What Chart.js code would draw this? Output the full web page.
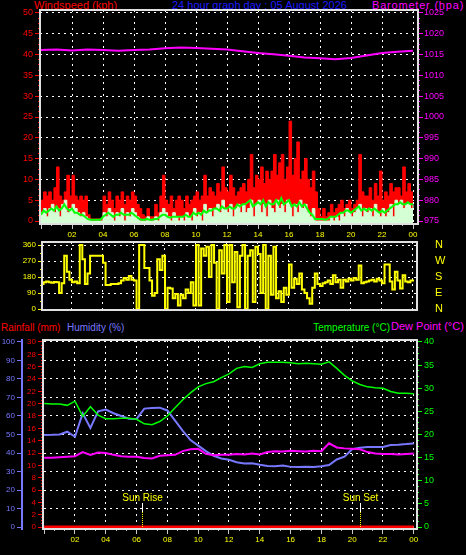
<!DOCTYPE html>
<html lang="en">
<head>
<meta charset="UTF-8">
<title>24 hour graph day</title>
<script src="https://cdn.jsdelivr.net/npm/chart.js"></script>
<style>
  html, body { margin: 0; padding: 0; background: #000; }
  body { width: 466px; height: 555px; position: relative; overflow: hidden;
         font-family: "Liberation Sans", Arial, sans-serif; }
  canvas { position: absolute; left: 0; }
  .t { position: absolute; font-size: 11px; line-height: 11px; white-space: nowrap; }
</style>
</head>
<body>
<div class="t" style="left:34px;top:0;color:#ff0000">Windspeed (kph)</div>
<div class="t" style="left:172px;top:0;color:#1c1cff">24 hour graph day : 05 August 2026</div>
<div class="t" style="left:372px;top:0;color:#ff00ff;letter-spacing:0.8px">Barometer (hpa)</div>
<div class="t" style="left:1px;top:322px;color:#ff0000;font-size:10px">Rainfall (mm)</div>
<div class="t" style="left:67px;top:322px;color:#7878ff;font-size:10px">Humidity (%)</div>
<div class="t" style="right:76px;top:322px;color:#00ff00;font-size:10px">Temperature (°C)</div>
<div class="t" style="left:391px;top:321px;color:#ff00ff">Dew Point (°C)</div>

<canvas id="top" width="466" height="240" style="top:0"></canvas>
<canvas id="dir" width="466" height="92" style="top:228px"></canvas>
<canvas id="bottom" width="466" height="237" style="top:318px"></canvas>

<script>
// wind, 10 minute samples from 00:00 to 24:00
const windStep = 1 / 6;
const windGust = [
  5, 7, 6, 7, 5, 8,   13, 6, 5, 7, 11, 6,   11, 6, 5, 6, 5, 6,   1.5, 0.5, 0.5, 0.5, 0.5, 0.5,
  6, 4, 7, 5, 3, 6,   5, 7, 4, 6, 5, 7,   6, 4, 3, 1.5, 1, 3,   1, 1, 4, 2, 6, 11,
  5, 4, 6, 3, 5, 6,   5, 3, 6, 4, 5, 6,   7, 5, 6, 11, 6, 8,   7, 6, 9, 7, 13, 8,
  7, 11, 8, 6, 7, 8,   9, 7, 10, 16, 8, 11,   10, 13, 9, 12, 10, 12,   16, 11, 14, 16, 10, 13,
  24, 11, 15, 19, 10, 12,   15, 10, 8, 12, 7, 3,   1, 3, 1, 2, 4, 2,   3, 4, 5, 3, 4, 5,
  3, 4, 5, 16, 7, 6,   6, 8, 5, 9, 6, 12,   5, 7, 6, 9, 7, 8,   8, 6, 13, 7, 9, 7,
  7
];
const windSpeed = [
  2, 3, 1, 3, 4, 2,   3, 1, 4, 5, 2, 3,   4, 3, 2, 1, 2, 1,   0.5, 0, 0, 0, 0, 0,
  2, 1, 3, 2, 0, 2,   1, 3, 0, 2, 1, 3,   2, 1, 0, 0, 0, 1,   0, 0, 1, 0, 2, 3,
  2, 1, 0, 2, 1, 0,   1, 0, 2, 1, 0, 3,   1, 2, 0, 4, 2, 3,   1, 3, 4, 2, 5, 3,
  2, 4, 1, 3, 4, 2,   4, 2, 3, 5, 1, 4,   5, 2, 4, 1, 5, 3,   2, 5, 3, 4, 2, 5,
  4, 1, 4, 2, 5, 3,   4, 2, 1, 3, 0, 0,   0, 0, 0, 0, 1, 0,   1, 0, 2, 1, 3, 2,
  1, 2, 3, 4, 1, 3,   2, 3, 1, 4, 2, 1,   3, 1, 2, 4, 1, 5,   4, 5, 3, 4, 4, 3,
  4
];
const windAvg = [
  1.5, 2.5, 2, 2.5, 3, 2.5,   3.5, 2.5, 3, 4, 3, 2.5,   3, 2, 2, 1.5, 1.5, 1,   0.5, 0.3, 0.3, 0.3, 0.3, 0.3,
  1, 1.5, 2, 1.5, 1, 1.5,   1.5, 2, 1.5, 1.5, 1.5, 2,   1.5, 1, 0.5, 0.3, 0.3, 0.5,   0.3, 0.3, 0.5, 0.5, 1, 1.5,
  1.5, 1, 0.8, 1, 1, 1,   1, 1, 1.5, 1, 1, 2,   1.5, 2, 1.5, 2.5, 2, 2.5,   2.5, 3, 3, 2.5, 3.5, 3,
  3, 3.5, 3, 3, 4, 3.5,   4, 4, 4.5, 5, 3.5, 4,   4.5, 4, 5, 3.5, 4.5, 4,   4, 5, 4, 5.5, 4, 4.5,
  5, 3.5, 4, 3.5, 4.5, 3.5,   4, 3, 2, 1.5, 0.5, 0.5,   0.5, 0.5, 0.3, 0.5, 1, 1,   1, 1.5, 2, 2, 2.5, 2.5,
  2, 2.5, 3, 3.5, 2.5, 3,   2.5, 3, 2.5, 3, 2.5, 2,   2.5, 2, 2.5, 3, 3.5, 4,   4, 4.5, 4, 4, 4.5, 4,
  4
];
const windDir = [
  140, 150, 155, 150, 148, 152,   150, 90, 145, 300, 210, 165,   150, 155, 145, 360, 280, 140,   200, 300, 300, 300, 300, 300,
  260, 135, 135, 140, 140, 140,   145, 160, 175, 165, 185, 165,   160, 0, 360, 360, 230, 230,   160, 75, 90, 280, 220, 300,
  0, 120, 115, 60, 85, 20,   80, 60, 110, 90, 150, 20,   360, 20, 340, 300, 350, 180,   360, 260, 0, 330, 200, 360,
  40, 360, 150, 320, 10, 300,   360, 0, 300, 330, 40, 350,   310, 90, 360, 0, 300, 80,   350, 60, 100, 40, 120, 80,
  250, 120, 170, 140, 200, 110,   90, 60, 30, 120, 200, 140,   130, 145, 150, 160, 140, 190,   150, 165, 120, 165, 155, 170,
  160, 175, 165, 245, 145, 150,   155, 160, 165, 155, 170, 160,   145, 250, 250, 155, 110, 210,   160, 115, 190, 155, 150, 160,
  155
];
// barometer, hourly
const baroStep = 1;
const barometer = [
  1016.1, 1016.2, 1016.0, 1016.2, 1016.1, 1015.9, 1016.1, 1016.2, 1016.5, 1016.7, 1016.6, 1016.4, 1016.2,
  1015.8, 1015.4, 1015.1, 1014.7, 1014.3, 1014.1, 1013.9, 1014.2, 1014.8, 1015.4, 1015.7, 1015.9
];
// temperature / humidity / dew point, half-hourly
const dayStep = 0.5;
const temperature = [
  26.7, 26.6, 26.6, 26.3, 27.2, 23.9, 26.0, 24.2, 23.4, 23.4, 23.5, 23.5,
  23.3, 22.3, 22.1, 22.8, 24.0, 25.8, 27.5, 29.0, 30.3, 31.0, 31.4, 32.3,
  33.1, 34.3, 34.7, 34.5, 35.3, 35.6, 35.6, 35.6, 35.5, 35.3, 35.4, 35.3,
  35.2, 35.7, 34.3, 32.8, 31.6, 30.8, 30.3, 30.1, 30.0, 29.3, 28.9, 28.9,
  28.8
];
const humidity = [
  49.7, 49.8, 50.0, 51.5, 48.8, 61.5, 53.5, 62.5, 63.5, 61.5, 60.0, 58.5,
  58.4, 64.0, 64.3, 64.5, 63.0, 57.5, 52.0, 47.0, 44.0, 41.0, 38.5, 37.0,
  36.3, 35.0, 34.3, 34.5, 33.6, 33.0, 32.8, 33.2, 32.5, 32.4, 32.6, 32.4,
  32.8, 33.5, 36.5, 38.0, 42.0, 42.8, 43.2, 43.2, 43.3, 44.3, 44.5, 44.8,
  45.2
];
const dewPoint = [
  15.0, 15.0, 15.1, 15.2, 15.3, 16.2, 15.6, 16.1, 16.0, 15.6, 15.3, 15.2,
  15.2, 14.9, 14.8, 15.4, 15.5, 15.6, 16.4, 16.8, 16.9, 15.8, 15.5, 15.6,
  15.6, 15.8, 15.7, 15.9, 15.7, 16.2, 16.4, 16.3, 16.5, 16.4, 16.3, 16.5,
  16.4, 18.1, 17.2, 17.0, 16.9, 16.8, 16.2, 15.9, 15.8, 15.8, 15.7, 15.8,
  15.9
];
// rainfall, hourly
const rainStep = 1;
const rainfall = [0, 0, 0, 0, 0, 0, 0, 0, 0, 0, 0, 0, 0, 0, 0, 0, 0, 0, 0, 0, 0, 0, 0, 0, 0];

const hourLabels = ['02', '04', '06', '08', '10', '12', '14', '16', '18', '20', '22', '00'];
const compassLabels = ['N', 'E', 'S', 'W', 'N'];
const sunLabels = ['Sun Rise', 'Sun Set'];
const sunTimes = [6.37, 20.5];

Chart.defaults.font.family = '"Liberation Sans", Arial, sans-serif';

function pts(values, step) {
  return values.map((v, i) => ({ x: i * step, y: v }));
}
function steps(a, b, s) {
  const out = [];
  for (let i = 0; a + i * s <= b + 1e-9; i++) out.push(+(a + i * s).toFixed(4));
  return out;
}
function fixed(list) {
  return s => { s.ticks = list.map(v => ({ value: v })); };
}
const hourTicks = steps(0, 24, 2 / 3);
const CLEAR = 'rgba(0,0,0,0)';

function hourAxis(min, max, height, showTicks) {
  return {
    type: 'linear', min, max,
    afterBuildTicks: fixed(hourTicks),
    afterFit: s => { s.height = height; },
    ticks: {
      display: showTicks, autoSkip: false, maxRotation: 0, color: '#ffff00',
      font: { size: 8 }, padding: 1,
      callback: (v, i) => (i % 3 === 0 && i > 0) ? hourLabels[i / 3 - 1] : ''
    },
    grid: {
      color: c => (c.index % 3 === 0 && c.index > 0) ? '#ffffff' : CLEAR,
      drawTicks: showTicks, tickLength: 5, tickColor: '#c8c8c8',
      tickBorderDash: c => c.index % 3 === 0 ? [] : [2, 50]
    },
    border: { display: false, dash: [2, 4] }
  };
}

function valueAxis(o) {
  const isMajor = v => Math.abs(v / o.major - Math.round(v / o.major)) < 1e-6;
  const minorDash = o.position === 'left' ? [0, o.tick - 2, 2, 50] : [2, 50];
  return {
    type: 'linear', position: o.position, weight: o.weight || 0,
    min: o.min, max: o.max,
    afterBuildTicks: fixed(o.ticks),
    afterFit: s => { s.width = o.width; },
    ticks: {
      autoSkip: false, color: o.color, font: { size: o.size || 9 }, padding: o.pad,
      callback: v => isMajor(v) ? (o.labels ? o.labels(v) : v) : ''
    },
    grid: {
      drawOnChartArea: !!o.gridLines,
      color: c => (c.tick && isMajor(c.tick.value)) ? '#ffffff' : CLEAR,
      drawTicks: true, tickLength: o.tick,
      tickColor: o.hideTicks ? CLEAR : o.color,
      tickBorderDash: c => (c.tick && isMajor(c.tick.value)) ? [] : minorDash
    },
    border: { display: !!o.border, color: o.color, width: 2, dash: [2, 4] }
  };
}

const frame = {
  id: 'frame',
  afterDraw(chart) {
    const { ctx, chartArea: a } = chart;
    ctx.save();
    ctx.strokeStyle = '#e0e0e0';
    ctx.lineWidth = 2;
    ctx.strokeRect(a.left, a.top, a.width, a.height);
    ctx.restore();
  }
};

const sunMarks = {
  id: 'sunMarks',
  afterDatasetsDraw(chart) {
    const { ctx, chartArea: a, scales: { x } } = chart;
    ctx.save();
    ctx.font = '10px "Liberation Sans", Arial, sans-serif';
    ctx.textAlign = 'center';
    ctx.fillStyle = '#ffff00';
    sunTimes.forEach((t, i) => {
      const px = Math.round(x.getPixelForValue(t)) + 0.5;
      ctx.fillText(sunLabels[i], px, a.bottom - 28);
      ctx.strokeStyle = '#ffffff';
      ctx.lineWidth = 1;
      ctx.setLineDash([]);
      ctx.beginPath(); ctx.moveTo(px, a.bottom - 26); ctx.lineTo(px, a.bottom - 17); ctx.stroke();
      ctx.strokeStyle = '#ffff00';
      ctx.setLineDash([1, 1]);
      ctx.beginPath(); ctx.moveTo(px, a.bottom - 17); ctx.lineTo(px, a.bottom - 2); ctx.stroke();
    });
    ctx.restore();
  }
};

const common = {
  responsive: false, animation: false, events: [],
  plugins: { legend: { display: false }, tooltip: { enabled: false } },
  elements: { point: { radius: 0 }, line: { tension: 0 } }
};

// windspeed + barometer
new Chart(document.getElementById('top'), {
  type: 'line',
  data: {
    datasets: [
      { label: 'Barometer', data: pts(barometer, baroStep), yAxisID: 'baro',
        borderColor: '#ff00ff', borderWidth: 2 },
      { label: 'Average', data: pts(windAvg, windStep), yAxisID: 'wind',
        borderColor: '#00ff00', borderWidth: 2 },
      { label: 'Speed', data: pts(windSpeed, windStep), yAxisID: 'wind', stepped: true,
        borderColor: '#d4ffd4', backgroundColor: '#d4ffd4', borderWidth: 1, fill: 'start' },
      { label: 'Gust', data: pts(windGust, windStep), yAxisID: 'wind', stepped: true,
        borderColor: '#ff0000', backgroundColor: '#ff0000', borderWidth: 1, fill: 'start' }
    ]
  },
  options: {
    ...common,
    layout: { padding: { top: 10, left: 0, right: 0, bottom: 0 } },
    scales: {
      x: hourAxis(-0.065, 24.32, 16, true),
      wind: valueAxis({ position: 'left', min: -0.72, max: 50.72, ticks: steps(0, 50, 1.25), major: 5,
        color: '#ff0000', width: 40, size: 9, tick: 5, pad: 2, gridLines: true }),
      baro: valueAxis({ position: 'right', min: 974.28, max: 1025.72, ticks: steps(975, 1025, 1.25), major: 5,
        color: '#ff00ff', width: 48, size: 9, tick: 5, pad: 1 })
    }
  },
  plugins: [frame]
});

// wind direction
new Chart(document.getElementById('dir'), {
  type: 'line',
  data: {
    datasets: [
      { label: 'Direction', data: pts(windDir, windStep), yAxisID: 'deg', stepped: true,
        borderColor: '#ffff00', borderWidth: 2 }
    ]
  },
  options: {
    ...common,
    layout: { padding: { top: 14, left: 0, right: 0, bottom: 10 } },
    scales: {
      x: hourAxis(0.065, 24.26, 0, false),
      deg: valueAxis({ position: 'left', min: -5.6, max: 376.9, ticks: steps(0, 360, 45), major: 90,
        color: '#ffff00', width: 42, size: 8, tick: 4, pad: 2, gridLines: true }),
      compass: valueAxis({ position: 'right', min: -5.6, max: 376.9, ticks: steps(0, 360, 90), major: 90,
        color: '#ffff00', width: 49, size: 11, tick: 18, pad: 0, hideTicks: true,
        labels: v => compassLabels[v / 90] })
    }
  },
  plugins: [frame]
});

// rainfall, humidity, temperature, dew point
new Chart(document.getElementById('bottom'), {
  type: 'line',
  data: {
    datasets: [
      { label: 'Rainfall', data: pts(rainfall, rainStep), yAxisID: 'rain',
        borderColor: '#ff0000', borderWidth: 3 },
      { label: 'Temperature', data: pts(temperature, dayStep), yAxisID: 'temp',
        borderColor: '#00ff00', borderWidth: 1.5 },
      { label: 'Dew Point', data: pts(dewPoint, dayStep), yAxisID: 'temp',
        borderColor: '#ff00ff', borderWidth: 2 },
      { label: 'Humidity', data: pts(humidity, dayStep), yAxisID: 'hum',
        borderColor: '#7878ff', borderWidth: 2 }
    ]
  },
  options: {
    ...common,
    layout: { padding: { top: 22, left: 0, right: 0, bottom: 0 } },
    scales: {
      x: hourAxis(-0.078, 24.21, 26, true),
      hum: valueAxis({ position: 'left', weight: 2, min: -1.08, max: 101.08, ticks: steps(0, 100, 10), major: 10,
        color: '#7878ff', width: 22, size: 8, tick: 5, pad: 2, gridLines: true, border: true }),
      rain: valueAxis({ position: 'left', weight: 1, min: -0.32, max: 30.32, ticks: steps(0, 30, 0.5), major: 2,
        color: '#ff0000', width: 21, size: 8, tick: 5, pad: 2 }),
      temp: valueAxis({ position: 'right', min: -0.43, max: 40.43, ticks: steps(0, 40, 1.25), major: 5,
        color: '#00ff00', width: 49, size: 9, tick: 5, pad: 2 })
    }
  },
  plugins: [frame, sunMarks]
});
</script>
</body>
</html>
